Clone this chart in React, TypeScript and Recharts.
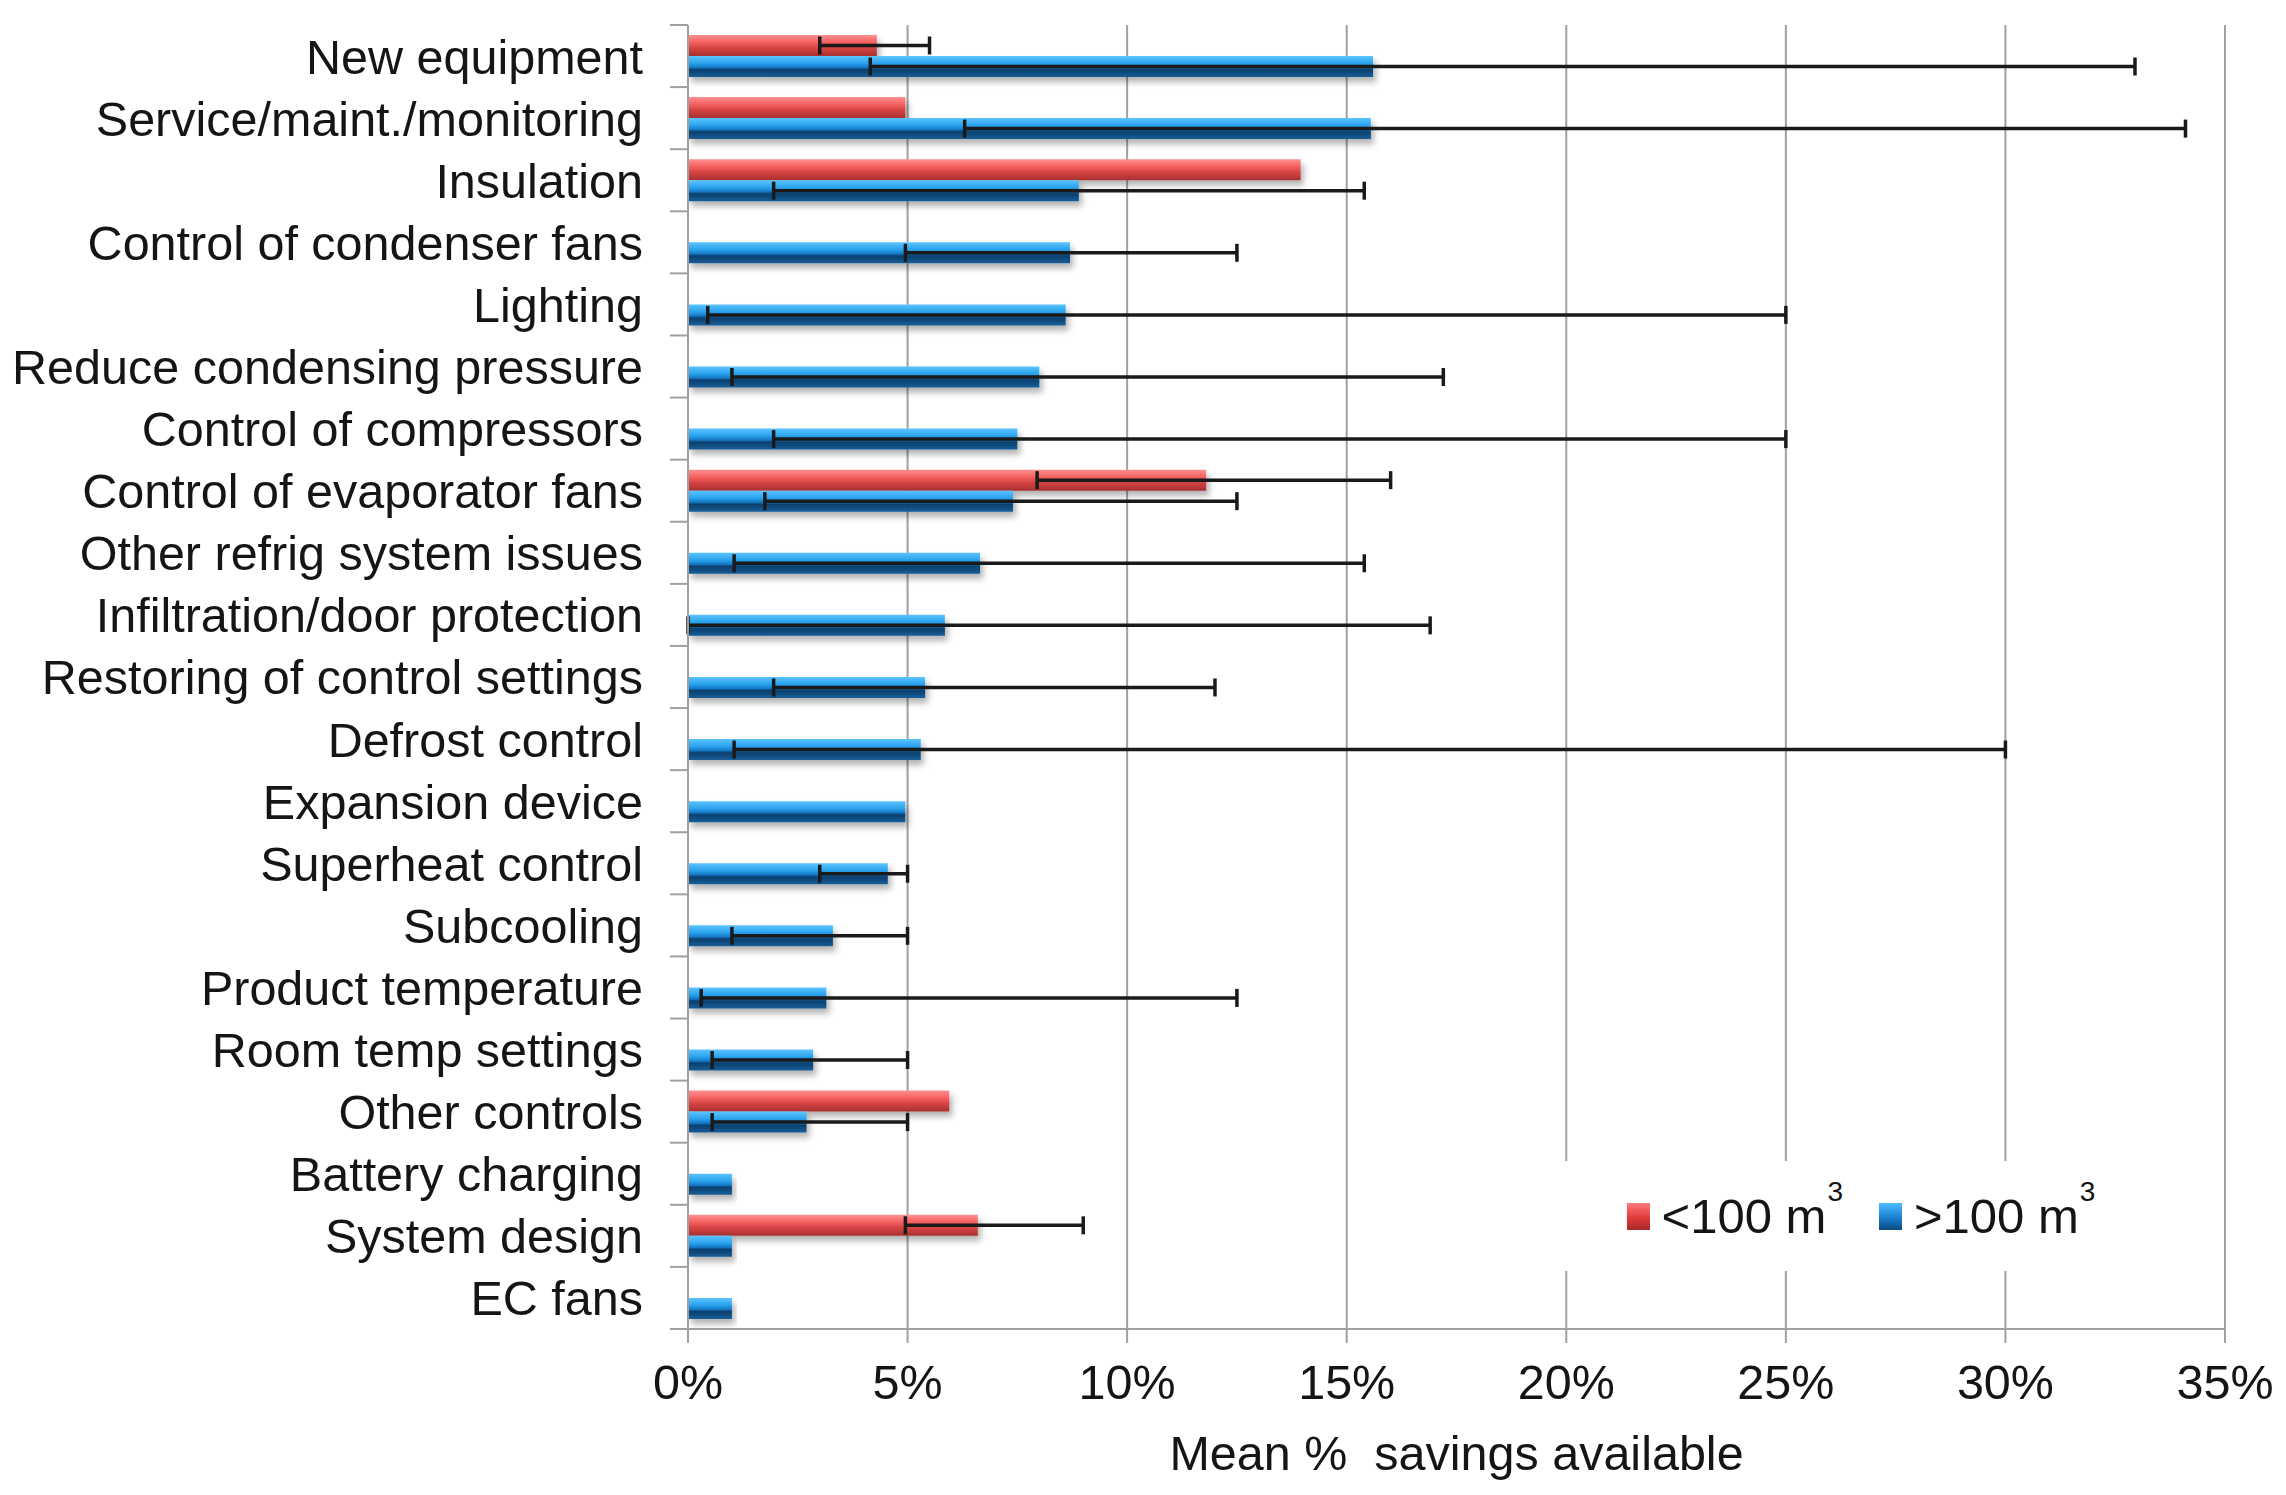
import { BarChart, Bar, XAxis, YAxis, CartesianGrid, ErrorBar, Legend } from "recharts";

const categories = [
  "New equipment",
  "Service/maint./monitoring",
  "Insulation",
  "Control of condenser fans",
  "Lighting",
  "Reduce condensing pressure",
  "Control of compressors",
  "Control of evaporator fans",
  "Other refrig system issues",
  "Infiltration/door protection",
  "Restoring of control settings",
  "Defrost control",
  "Expansion device",
  "Superheat control",
  "Subcooling",
  "Product temperature",
  "Room temp settings",
  "Other controls",
  "Battery charging",
  "System design",
  "EC fans",
];

// <100 m3 rooms: mean % savings, with min / max range
const smallMean = [4.3, 4.95, 13.95, null, null, null, null, 11.8, null, null, null, null, null, null, null, null, null, 5.95, null, 6.6, null];
const smallLow = [3.0, null, null, null, null, null, null, 7.95, null, null, null, null, null, null, null, null, null, null, null, 4.95, null];
const smallHigh = [5.5, null, null, null, null, null, null, 16.0, null, null, null, null, null, null, null, null, null, null, null, 9.0, null];

// >100 m3 rooms
const largeMean = [15.6, 15.55, 8.9, 8.7, 8.6, 8.0, 7.5, 7.4, 6.65, 5.85, 5.4, 5.3, 4.95, 4.55, 3.3, 3.15, 2.85, 2.7, 1.0, 1.0, 1.0];
const largeLow = [4.15, 6.3, 1.95, 4.95, 0.45, 1.0, 1.95, 1.75, 1.05, 0, 1.95, 1.05, null, 3.0, 1.0, 0.3, 0.55, 0.55, null, null, null];
const largeHigh = [32.95, 34.1, 15.4, 12.5, 25.0, 17.2, 25.0, 12.5, 15.4, 16.9, 12.0, 30.0, null, 5.0, 5.0, 12.5, 5.0, 5.0, null, null, null];

const xTicks = [0, 5, 10, 15, 20, 25, 30, 35];

const FONT = "'Liberation Sans', Arial, Helvetica, sans-serif";
const TEXT = "#151515";
const AXIS = "#a0a0a0";

const W = 2286;
const H = 1495;
const TOP = 25;
const X_AXIS_H = 166;
const BAND = (H - TOP - X_AXIS_H) / categories.length;

const errRange = (mean: number | null, low: number | null, high: number | null) =>
  mean == null || low == null || high == null ? undefined : [mean - low, high - mean];

const data = categories.map((name, i) => ({
  name,
  small: smallMean[i],
  smallErr: errRange(smallMean[i], smallLow[i], smallHigh[i]),
  large: largeMean[i],
  largeErr: errRange(largeMean[i], largeLow[i], largeHigh[i]),
}));

function CategoryTick(props: any) {
  const { x, y, payload, index } = props;
  const half = BAND / 2;
  return (
    <g>
      <line x1={x + 27} x2={x + 45} y1={y - half} y2={y - half} stroke={AXIS} strokeWidth={2} />
      {index === categories.length - 1 && (
        <line x1={x + 27} x2={x + 45} y1={y + half} y2={y + half} stroke={AXIS} strokeWidth={2} />
      )}
      <text x={x} y={y} dy="0.36em" textAnchor="end" fontSize={48.5} fill={TEXT} fontFamily={FONT}>
        {payload.value}
      </text>
    </g>
  );
}

const legendItems = [
  { label: "<100 m", bg: "linear-gradient(#ff7a7a, #e03a3a 55%, #a82828)" },
  { label: ">100 m", bg: "linear-gradient(#4cbcff, #1a7fd0 55%, #0b4a80)" },
];

function LegendContent() {
  return (
    <div
      style={{
        display: "flex",
        alignItems: "center",
        justifyContent: "center",
        height: "100%",
        gap: 36,
        fontFamily: FONT,
        fontSize: 49,
        color: TEXT,
      }}
    >
      {legendItems.map((it) => (
        <span key={it.label} style={{ display: "flex", alignItems: "center" }}>
          <span style={{ width: 23, height: 27, background: it.bg, marginRight: 12 }} />
          {it.label}
          <span style={{ fontSize: 28, position: "relative", top: -24, marginLeft: 1 }}>3</span>
        </span>
      ))}
    </div>
  );
}

export default function App() {
  return (
    <div>
      <style>{"body{margin:0}"}</style>
      <BarChart
        width={W}
        height={H}
        data={data}
        layout="vertical"
        margin={{ top: TOP, right: 61, bottom: 0, left: 0 }}
        barSize={21}
        barGap={0}
      >
        <defs>
          <linearGradient id="redGrad" x1="0" y1="0" x2="0" y2="1">
            <stop offset="0%" stopColor="#ff9090" />
            <stop offset="35%" stopColor="#f56060" />
            <stop offset="60%" stopColor="#d84444" />
            <stop offset="100%" stopColor="#a83030" />
          </linearGradient>
          <linearGradient id="blueGrad" x1="0" y1="0" x2="0" y2="1">
            <stop offset="0%" stopColor="#5cc4ff" />
            <stop offset="35%" stopColor="#2aa2ee" />
            <stop offset="55%" stopColor="#1477c4" />
            <stop offset="65%" stopColor="#0c3f6c" />
            <stop offset="100%" stopColor="#165e98" />
          </linearGradient>
          <filter id="shadow" x="-5%" y="-40%" width="115%" height="200%">
            <feDropShadow dx="3" dy="5" stdDeviation="3" floodColor="#000" floodOpacity="0.3" />
          </filter>
        </defs>
        <CartesianGrid vertical horizontal={false} stroke={AXIS} strokeWidth={2} />
        <XAxis
          type="number"
          domain={[0, 35]}
          ticks={xTicks}
          tickFormatter={(v: number) => `${v}%`}
          height={X_AXIS_H}
          tickSize={14}
          tickMargin={22}
          axisLine={{ stroke: AXIS, strokeWidth: 2 }}
          tickLine={{ stroke: AXIS, strokeWidth: 2 }}
          tick={{ fontSize: 48.5, fill: TEXT, fontFamily: FONT }}
          label={{
            value: "Mean %\u00a0 savings available",
            position: "insideBottom",
            offset: 25,
            fontSize: 48.5,
            fill: TEXT,
            fontFamily: FONT,
          }}
        />
        <YAxis
          type="category"
          dataKey="name"
          width={688}
          interval={0}
          tickSize={18}
          tickMargin={27}
          tickLine={false}
          axisLine={{ stroke: AXIS, strokeWidth: 2 }}
          tick={(p: any) => <CategoryTick {...p} />}
        />
        <Legend
          layout="horizontal"
          align="center"
          verticalAlign="middle"
          content={() => <LegendContent />}
          wrapperStyle={{ left: 1548, top: 1161, width: 626, height: 110, background: "#fff" }}
        />
        <Bar dataKey="small" name="<100 m3" fill="url(#redGrad)" filter="url(#shadow)" isAnimationActive={false}>
          <ErrorBar dataKey="smallErr" direction="x" width={9} stroke="#1a1a1a" strokeWidth={3.5} />
        </Bar>
        <Bar dataKey="large" name=">100 m3" fill="url(#blueGrad)" filter="url(#shadow)" isAnimationActive={false}>
          <ErrorBar dataKey="largeErr" direction="x" width={9} stroke="#1a1a1a" strokeWidth={3.5} />
        </Bar>
      </BarChart>
    </div>
  );
}
